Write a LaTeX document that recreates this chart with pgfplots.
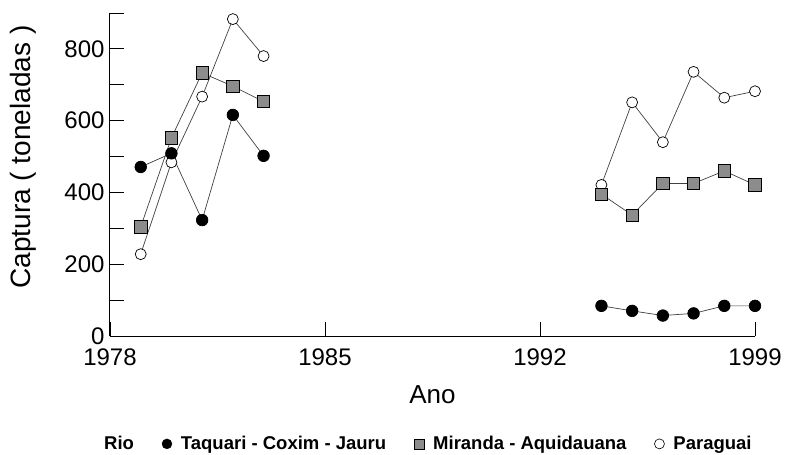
\documentclass[border=0pt]{standalone}
\usepackage{pgfplots}
\pgfplotsset{compat=1.18}
\usepackage{fontspec}
\setmainfont{Liberation Sans}
\begin{document}
\begin{tikzpicture}
\begin{axis}[
  at={(0pt,0pt)}, anchor=south west,
  scale only axis, width=645pt, height=323pt,
  xmin=1978, xmax=1999, ymin=0, ymax=900,
  clip=false,
  axis x line*=bottom, axis y line*=left,
  axis line style={black, line width=1pt},
  tick align=inside, major tick length=14pt,
  tick style={black, line width=0.8pt},
  xtick={1978,1985,1992,1999},
  xticklabels={1978,1985,1992,1999},
  ytick={0,100,200,300,400,500,600,700,800,900},
  yticklabels={0,,200,,400,,600,,800,},
  minor tick num=0,
  /pgf/number format/assume math mode=true,
  ticklabel style={font=\fontsize{24}{28}\selectfont},
  xticklabel style={yshift=-9pt},
  yticklabel style={xshift=-2pt},
  xlabel={Ano}, ylabel={Captura ( toneladas )},
  xlabel style={font=\fontsize{26}{30}\selectfont, at={(axis description cs:0.5,-0.183)}, anchor=center},
  ylabel style={font=\fontsize{28}{32}\selectfont, at={(axis description cs:-0.135,0.554)}, anchor=center},
  unbounded coords=jump,
  legend columns=4,
  legend image code/.code={\draw[#1] plot coordinates {(0pt,0pt)};},
  legend style={draw=none, fill=none, inner sep=0pt, outer sep=0pt,
    font=\bfseries\fontsize{18.5}{22}\selectfont,
    nodes={inner sep=0pt},
    at={(axis description cs:-0.023,-0.334)}, anchor=west,
    /tikz/every odd column/.append style={column sep=9pt},
    /tikz/every even column/.append style={column sep=28pt},
    /tikz/column 2/.append style={column sep=8pt}},
]
\addlegendimage{empty legend}
\addlegendentry{Rio}
\addlegendimage{only marks, mark=*, mark size=5pt, draw=black, fill=black}
\addlegendentry{Taquari - Coxim - Jauru}
\addlegendimage{only marks, mark=square*, mark size=5pt, draw=black, fill=black!45, mark options={line width=0.6pt}}
\addlegendentry{Miranda - Aquidauana}
\addlegendimage{only marks, mark=*, mark size=5pt, draw=black, fill=white, mark options={line width=0.6pt}}
\addlegendentry{Paraguai}

% Paraguai
\addplot[forget plot, black!75, line width=0.7pt, mark=*, mark size=5.5pt,
  mark options={draw=black, fill=white, line width=0.7pt}] table[row sep=\\] {
x y\\
1979 228\\ 1980 484\\ 1981 667\\ 1982 883\\ 1983 780\\
1988 nan\\
1994 421\\ 1995 651\\ 1996 540\\ 1997 736\\ 1998 664\\ 1999 682\\
};
% Miranda - Aquidauana
\addplot[forget plot, black!75, line width=0.7pt, mark=square*, mark size=6.2pt,
  mark options={draw=black, fill=black!45, line width=0.7pt}] table[row sep=\\] {
x y\\
1979 304\\ 1980 552\\ 1981 733\\ 1982 696\\ 1983 653\\
1988 nan\\
1994 395\\ 1995 337\\ 1996 425\\ 1997 425\\ 1998 460\\ 1999 421\\
};
% Taquari - Coxim - Jauru
\addplot[forget plot, black!75, line width=0.7pt, mark=*, mark size=5.8pt,
  mark options={draw=black, fill=black}] table[row sep=\\] {
x y\\
1979 471\\ 1980 509\\ 1981 323\\ 1982 616\\ 1983 502\\
1988 nan\\
1994 84\\ 1995 70\\ 1996 57\\ 1997 63\\ 1998 84\\ 1999 84\\
};
\end{axis}
\path[use as bounding box] (-110pt,-119pt) rectangle (677pt,336pt);
\end{tikzpicture}
\end{document}
